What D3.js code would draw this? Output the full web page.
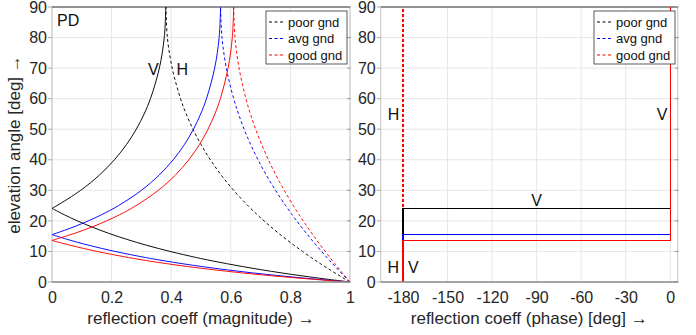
<!DOCTYPE html>
<html><head><meta charset="utf-8">
<script src="https://cdn.jsdelivr.net/npm/d3@7"></script>
<style>
html,body{margin:0;padding:0;background:#fff;}
svg{display:block;font-family:"Liberation Sans",Arial,Helvetica,sans-serif;}
</style></head>
<body>
<svg id="chart" width="696" height="335"></svg>
<script>
// ---------- data ----------
const grounds = ["poor gnd", "avg gnd", "good gnd"];
const groundColors = ["#000000", "#0000ff", "#ff0000"];

const elevTicks = [0,10,20,30,40,50,60,70,80,90];
const magTicks = [0,0.2,0.4,0.6,0.8,1];
const phaseTicks = [-180,-150,-120,-90,-60,-30,0];

// H polarization magnitude (dashed)
const elevH = [0,1,2,3,4,5,6,7,8,10,12,14,16,18,20,22,25,30,35,40,45,50,55,60,70,80,90];
const magH_poor = [1,0.9827,0.9657,0.9490,0.9326,0.9166,0.9008,0.8853,0.8702,0.8408,0.8126,0.7856,0.7598,0.7351,0.7115,0.6890,0.6574,0.6096,0.5678,0.5314,0.5000,0.4731,0.4503,0.4313,0.4033,0.3872,0.3820];
const magH_avg  = [1,0.9900,0.9801,0.9702,0.9605,0.9509,0.9414,0.9321,0.9228,0.9046,0.8870,0.8697,0.8530,0.8368,0.8211,0.8059,0.7840,0.7500,0.7192,0.6914,0.6667,0.6448,0.6259,0.6096,0.5850,0.5705,0.5657];
const magH_good = [1,0.9913,0.9827,0.9742,0.9657,0.9574,0.9491,0.9409,0.9328,0.9169,0.9013,0.8861,0.8714,0.8570,0.8430,0.8294,0.8098,0.7793,0.7514,0.7261,0.7035,0.6834,0.6658,0.6507,0.6277,0.6141,0.6096];

// V polarization magnitude (solid), zero at the Brewster angle
const elevV_poor = [0,1,2,3,4,5,6,7,8,10,12,14,16,18,20,22,24.1,25,30,35,40,45,50,55,60,70,80,90];
const magV_poor  = [1,0.9164,0.8395,0.7687,0.7032,0.6425,0.5861,0.5336,0.4847,0.3962,0.3184,0.2497,0.1886,0.1341,0.0853,0.0414,0,0.0166,0.0961,0.1591,0.2095,0.2500,0.2828,0.3092,0.3304,0.3603,0.3767,0.3820];
const elevV_avg  = [0,1,2,3,4,5,6,7,8,10,12,14,15.5,16,18,20,22,25,30,35,40,45,50,55,60,70,80,90];
const magV_avg   = [1,0.8771,0.7684,0.6717,0.5851,0.5072,0.4367,0.3726,0.3142,0.2115,0.1243,0.0495,0,0.0153,0.0720,0.1218,0.1659,0.2231,0.3000,0.3597,0.4068,0.4444,0.4747,0.4990,0.5184,0.5458,0.5609,0.5657];
const elevV_good = [0,1,2,3,4,5,6,7,8,10,12,13.6,14,16,18,20,22,25,30,35,40,45,50,55,60,70,80,90];
const magV_good  = [1,0.8619,0.7417,0.6361,0.5427,0.4595,0.3850,0.3178,0.2570,0.1512,0.0625,0,0.0130,0.0778,0.1340,0.1831,0.2264,0.2822,0.3566,0.4140,0.4591,0.4949,0.5235,0.5466,0.5650,0.5908,0.6051,0.6096];

// phase (deg)
const elevPhaseH = [0, 90];
const phaseH = [-180, -180];
const elevPhaseV_poor = [0, 24.1, 24.1, 90];
const elevPhaseV_avg  = [0, 15.5, 15.5, 90];
const elevPhaseV_good = [0, 13.6, 13.6, 90];
const phaseV = [-180, -180, 0, 0];

// text annotations (data coordinates)
const leftNotes  = [["PD", 0.017, 83.8], ["V", 0.322, 67.7], ["H", 0.418, 67.7]];
const rightNotes = [["H", -190.2, 53.0], ["V", -9.2, 53.0], ["V", -90.0, 25.0], ["H", -190.5, 2.9], ["V", -176.7, 2.9]];

// ---------- drawing ----------
const svg = d3.select("#chart");
const txtCol = "#262626";
const yS = d3.scaleLinear().domain([0, 90]).range([282, 7]);
const xL = d3.scaleLinear().domain([0, 1]).range([52, 350]);
const xR = d3.scaleLinear().domain([-195, 5]).range([380.725, 677.725]);

const magH = [magH_poor, magH_avg, magH_good];
const elevV = [elevV_poor, elevV_avg, elevV_good];
const magV = [magV_poor, magV_avg, magV_good];
const elevPV = [elevPhaseV_poor, elevPhaseV_avg, elevPhaseV_good];

function panel(id, x, xTicks, xLabel, notes) {
  const g = svg.append("g");
  const [x0, x1] = x.range();
  const [y1, y0] = yS.range();
  g.append("defs").append("clipPath").attr("id", id)
    .append("rect").attr("x", x0).attr("y", y0 - 1).attr("width", x1 - x0).attr("height", y1 - y0 + 1);
  // grid
  g.append("g").selectAll("line").data(xTicks).join("line")
    .attr("x1", d => x(d)).attr("x2", d => x(d)).attr("y1", y0).attr("y2", y1)
    .attr("stroke", "#e6e6e6").attr("stroke-width", 1);
  g.append("g").selectAll("line").data(elevTicks).join("line")
    .attr("x1", x0).attr("x2", x1).attr("y1", d => yS(d)).attr("y2", d => yS(d))
    .attr("stroke", "#e6e6e6").attr("stroke-width", 1);
  // frame
  g.append("line").attr("x1", x0).attr("x2", x0).attr("y1", y0).attr("y2", y1).attr("stroke", "#c4c4c4");
  g.append("line").attr("x1", x1).attr("x2", x1).attr("y1", y0).attr("y2", y1).attr("stroke", "#c4c4c4");
  g.append("line").attr("x1", x0).attr("x2", x1).attr("y1", y0).attr("y2", y0).attr("stroke", "#333");
  // small ticks on the sides
  g.append("g").selectAll("line").data(elevTicks).join("line")
    .attr("x1", x1 - 3).attr("x2", x1 + 1).attr("y1", d => yS(d)).attr("y2", d => yS(d)).attr("stroke", "#999");
  g.append("g").selectAll("line").data(elevTicks).join("line")
    .attr("x1", x0 - 4).attr("x2", x0).attr("y1", d => yS(d)).attr("y2", d => yS(d)).attr("stroke", "#aaa");
  // axes text
  const ax = g.append("g").attr("transform", `translate(0,${y1})`)
    .call(d3.axisBottom(x).tickValues(xTicks).tickSize(0).tickPadding(10).tickFormat(d => String(d)));
  ax.select(".domain").remove();
  ax.selectAll("text").attr("font-size", 16).attr("fill", txtCol).attr("font-family", null);
  const ay = g.append("g").attr("transform", `translate(${x0},0)`)
    .call(d3.axisLeft(yS).tickValues(elevTicks).tickSize(0).tickPadding(5).tickFormat(d => String(d)));
  ay.select(".domain").remove();
  ay.selectAll("text").attr("font-size", 16).attr("fill", txtCol).attr("font-family", null);
  g.append("text").attr("x", (x0 + x1) / 2).attr("y", 324).attr("text-anchor", "middle")
    .attr("font-size", 17).attr("fill", txtCol).text(xLabel);
  // plot group
  const pg = g.append("g").attr("clip-path", `url(#${id})`);
  // notes
  g.append("g").selectAll("text").data(notes).join("text")
    .attr("x", d => x(d[1])).attr("y", d => yS(d[2]))
    .attr("text-anchor", (d, i) => (id === "cr" && i === 2) ? "middle" : "start")
    .attr("font-size", 16).attr("fill", "#111").text(d => d[0]);
  return {g, pg, x0, x1, y0, y1};
}

const L = panel("cl", xL, magTicks, "reflection coeff (magnitude) \u2192", leftNotes);
const R = panel("cr", xR, phaseTicks, "reflection coeff (phase) [deg] \u2192", rightNotes);

// left: magnitudes
const lineL = d3.line().x(d => xL(d[0])).y(d => yS(d[1])).curve(d3.curveCatmullRom.alpha(0.5));
grounds.forEach((gname, i) => {
  const pts = elevH.map((e, k) => [magH[i][k], e]);
  L.pg.append("path").attr("d", lineL(pts)).attr("fill", "none")
    .attr("stroke", groundColors[i]).attr("stroke-width", 0.95).attr("stroke-dasharray", "3,2.5");
});
grounds.forEach((gname, i) => {
  const pts = elevV[i].map((e, k) => [magV[i][k], e]);
  const iz = magV[i].indexOf(0);
  [pts.slice(0, iz + 1), pts.slice(iz)].forEach(br => {
    L.pg.append("path").attr("d", lineL(br)).attr("fill", "none")
      .attr("stroke", groundColors[i]).attr("stroke-width", 0.95);
  });
});

// right: phases
const lineR = d3.line().x(d => xR(d[0])).y(d => yS(d[1]));
grounds.forEach((gname, i) => {
  const pts = elevPhaseH.map((e, k) => [phaseH[k], e]);
  R.pg.append("path").attr("d", lineR(pts)).attr("fill", "none")
    .attr("stroke", groundColors[i]).attr("stroke-width", 2).attr("stroke-dasharray", "3,2");
});
grounds.forEach((gname, i) => {
  const pts = elevPV[i].map((e, k) => [phaseV[k], e]);
  R.pg.append("path").attr("d", lineR(pts)).attr("fill", "none")
    .attr("stroke", groundColors[i]).attr("stroke-width", 1.2)
    .attr("shape-rendering", "crispEdges");
});

// bottom axis lines (drawn on top)
[L, R].forEach(P => {
  P.g.append("line").attr("x1", P.x0).attr("x2", P.x1).attr("y1", P.y1).attr("y2", P.y1)
    .attr("stroke", "#8a8a8a").attr("stroke-width", 1.6);
});

// legends
function legend(xb) {
  const lg = svg.append("g");
  lg.append("rect").attr("x", xb).attr("y", 11).attr("width", 81).attr("height", 53)
    .attr("fill", "#fff").attr("stroke", "#333").attr("stroke-width", 0.8);
  const rows = [22, 38.5, 55];
  grounds.forEach((gname, i) => {
    lg.append("line").attr("x1", xb + 3).attr("x2", xb + 17).attr("y1", rows[i]).attr("y2", rows[i])
      .attr("stroke", groundColors[i]).attr("stroke-width", 1).attr("stroke-dasharray", "3,2.5");
    lg.append("text").attr("x", xb + 22).attr("y", rows[i]).attr("dy", "0.35em")
      .attr("font-size", 13).attr("fill", "#111").text(gname);
  });
}
legend(266);
legend(594);

// y label
svg.append("text").attr("transform", "translate(20,144.5) rotate(-90)")
  .attr("text-anchor", "middle").attr("font-size", 17).attr("fill", txtCol)
  .text("elevation angle [deg] \u2192");
</script>
</body></html>
